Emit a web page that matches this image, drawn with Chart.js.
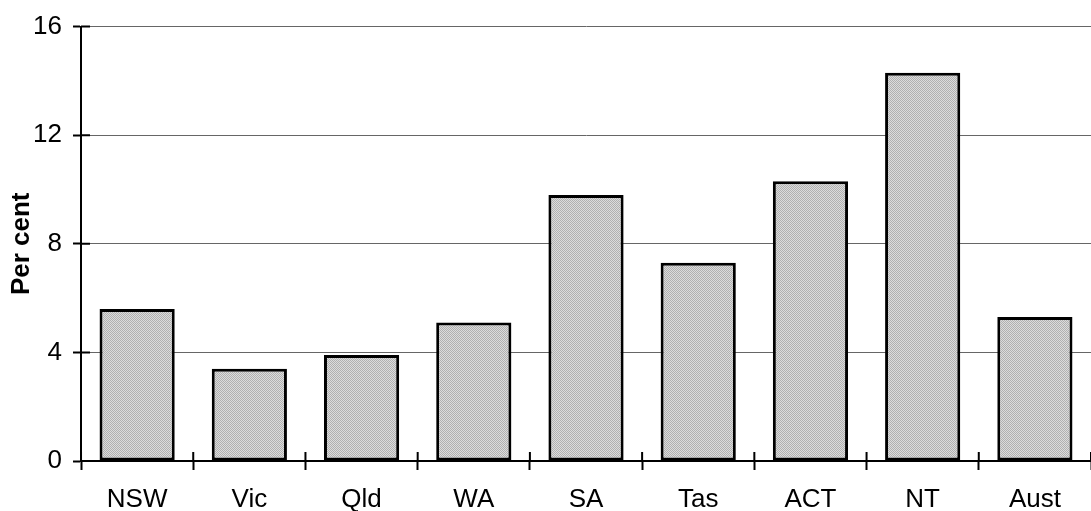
<!DOCTYPE html>
<html>
<head>
<meta charset="utf-8">
<script src="https://cdn.jsdelivr.net/npm/chart.js@4/dist/chart.umd.min.js"></script>
<style>
  html, body { margin: 0; padding: 0; background: #fff; }
  #wrap { width: 1091px; height: 511px; position: relative; }
</style>
</head>
<body>
<div id="wrap"><canvas id="chart"></canvas></div>
<script>
// States and territories
const categories = ['NSW', 'Vic', 'Qld', 'WA', 'SA', 'Tas', 'ACT', 'NT', 'Aust'];
const perCent = [5.6, 3.4, 3.9, 5.1, 9.8, 7.3, 10.3, 14.3, 5.3];
const yTicks = [0, 4, 8, 12, 16];

// fine grey dither like the old spreadsheet fill
function makeFill() {
  const c = document.createElement('canvas');
  c.width = 2; c.height = 2;
  const g = c.getContext('2d');
  g.fillStyle = '#dcdcdc';
  g.fillRect(0, 0, 2, 2);
  g.fillStyle = '#b0b0b0';
  g.fillRect(0, 0, 1, 1);
  g.fillRect(1, 1, 1, 1);
  return g.createPattern(c, 'repeat');
}

// tick marks cross the axis line, so draw the inside half too
const crossTicks = {
  id: 'crossTicks',
  afterDatasetsDraw(chart) {
    const { ctx, chartArea, scales } = chart;
    ctx.save();
    ctx.strokeStyle = '#000';
    ctx.lineWidth = 2;
    ctx.beginPath();
    scales.y.ticks.forEach((t, i) => {
      const py = scales.y.getPixelForTick(i);
      ctx.moveTo(chartArea.left, py);
      ctx.lineTo(chartArea.left + 9, py);
    });
    for (let i = 0; i <= categories.length; i++) {
      const px = scales.x.getPixelForValue(i - 0.5);
      ctx.moveTo(px, chartArea.bottom);
      ctx.lineTo(px, chartArea.bottom - 9);
    }
    ctx.stroke();
    ctx.restore();
  }
};

const family = '"Liberation Sans", Arial, sans-serif';

new Chart(document.getElementById('chart'), {
  type: 'bar',
  data: {
    labels: categories,
    datasets: [{
      data: perCent,
      backgroundColor: makeFill(),
      borderColor: '#000',
      borderWidth: 3,
      borderSkipped: false,
      barPercentage: 0.67,
      categoryPercentage: 1
    }]
  },
  options: {
    responsive: true,
    maintainAspectRatio: false,
    animation: false,
    layout: { padding: { top: 12, right: 0, left: 11, bottom: -19 } },
    plugins: { legend: { display: false }, tooltip: { enabled: false } },
    scales: {
      x: {
        offset: true,
        grid: {
          offset: true,
          drawOnChartArea: false,
          drawTicks: true,
          tickLength: 9,
          tickColor: '#000',
          tickWidth: 2
        },
        border: { color: '#000', width: 2 },
        ticks: { color: '#000', font: { family: family, size: 26, lineHeight: 1 }, padding: 17 }
      },
      y: {
        min: 0,
        max: 16,
        afterBuildTicks: (axis) => { axis.ticks = yTicks.map(v => ({ value: v })); },
        grid: {
          color: '#666',
          lineWidth: 1,
          tickLength: 8,
          tickColor: '#000',
          tickWidth: 2
        },
        border: { color: '#000', width: 2 },
        ticks: { color: '#000', font: { family: family, size: 26 }, padding: 11 },
        title: {
          display: true,
          text: 'Per cent',
          color: '#000',
          font: { family: family, size: 26, weight: 'bold', lineHeight: 0.85 },
          padding: { top: 0, bottom: -11 }
        }
      }
    }
  },
  plugins: [crossTicks]
});
</script>
</body>
</html>
